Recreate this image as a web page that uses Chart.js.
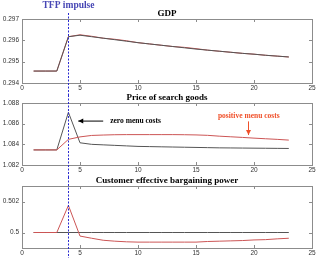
<!DOCTYPE html>
<html lang="en">
<head>
  <meta charset="UTF-8" />
  <title>TFP impulse responses</title>
  <script src="https://cdn.jsdelivr.net/npm/chart.js"></script>
  <style>
    html, body { margin: 0; padding: 0; background: #fff; }
    #wrap { position: relative; width: 325px; height: 267px; overflow: hidden; }
    #wrap canvas { position: absolute; left: 0; }
  </style>
</head>
<body>
  <div id="wrap">
    <canvas id="gdpChart" width="325" height="95" style="top:0"></canvas>
    <canvas id="priceChart" width="325" height="92" style="top:85px"></canvas>
    <canvas id="powerChart" width="325" height="97" style="top:170px"></canvas>
  </div>

  <script>
    const periods = [1, 2, 3, 4, 5, 6, 7, 8, 9, 10, 11, 12, 13, 14, 15, 16, 17, 18, 19, 20, 21, 22, 23];
    const impulseAt = 4;
    const xTicks = [0, 5, 10, 15, 20, 25];

    // GDP
    const gdpZero = [0.29456, 0.29456, 0.29456, 0.29617, 0.29624, 0.29617, 0.29610, 0.29603, 0.29596, 0.29589,
      0.29583, 0.29577, 0.29571, 0.29565, 0.29559, 0.29554, 0.29549, 0.29544, 0.29539, 0.29535, 0.29530, 0.29526, 0.29522];
    const gdpMenu = [0.29456, 0.29456, 0.29456, 0.29617, 0.29626, 0.29619, 0.29610, 0.29605, 0.29598, 0.29589,
      0.29583, 0.29577, 0.29571, 0.29567, 0.29561, 0.29554, 0.29549, 0.29544, 0.29539, 0.29535, 0.29530, 0.29526, 0.29522];
    const gdpTicks = [0.294, 0.295, 0.296, 0.297];

    // Price of search goods
    const priceZero = [1.08346, 1.08346, 1.08346, 1.0871, 1.08415, 1.0840, 1.08395, 1.0839, 1.08385, 1.0838,
      1.08378, 1.08376, 1.08374, 1.08372, 1.0837, 1.08368, 1.08366, 1.08365, 1.08364, 1.08363, 1.08362, 1.08361, 1.0836];
    const priceMenu = [1.08346, 1.08346, 1.08346, 1.08448, 1.08472, 1.08486, 1.0849, 1.08493, 1.08494, 1.08494,
      1.08494, 1.08494, 1.08494, 1.08493, 1.08491, 1.08487, 1.08479, 1.08473, 1.08467, 1.0846, 1.08454, 1.08448, 1.08441];
    const priceTicks = [1.082, 1.084, 1.086, 1.088];

    // Customer effective bargaining power
    const powerZero = [0.5, 0.5, 0.5, 0.5, 0.5, 0.5, 0.5, 0.5, 0.5, 0.5, 0.5, 0.5, 0.5, 0.5, 0.5, 0.5, 0.5, 0.5, 0.5, 0.5, 0.5, 0.5, 0.5];
    const powerMenu = [0.5, 0.5, 0.5, 0.50175, 0.49977, 0.49963, 0.4995, 0.49944, 0.4994, 0.49938,
      0.49938, 0.49938, 0.49938, 0.49938, 0.49938, 0.49942, 0.49944, 0.49946, 0.49948, 0.49952, 0.49954, 0.49959, 0.49963];
    const powerTicks = [0.5, 0.502];

    const BLACK = '#555';
    const RED = '#cc5555';
    const tickFont = { family: '"Liberation Sans", Arial, sans-serif', size: 6.5 };

    // MATLAB style box, inward ticks, title and the impulse marker
    const matlabBox = {
      id: 'matlabBox',
      afterDraw(chart, args, opts) {
        const { ctx, chartArea: a, scales: { x, y } } = chart;
        ctx.save();
        ctx.strokeStyle = '#8c8c8c';
        ctx.lineWidth = 1;
        ctx.strokeRect(Math.round(a.left) + 0.5, Math.round(a.top) + 0.5,
          Math.round(a.right - a.left), Math.round(a.bottom - a.top));
        ctx.beginPath();
        xTicks.forEach(v => {
          const px = Math.round(x.getPixelForValue(v)) + 0.5;
          ctx.moveTo(px, a.bottom); ctx.lineTo(px, a.bottom - 3);
          ctx.moveTo(px, a.top); ctx.lineTo(px, a.top + 3);
        });
        opts.yTicks.forEach(v => {
          const py = Math.round(y.getPixelForValue(v)) + 0.5;
          ctx.moveTo(a.left, py); ctx.lineTo(a.left + 3, py);
          ctx.moveTo(a.right, py); ctx.lineTo(a.right - 3, py);
        });
        ctx.stroke();

        ctx.fillStyle = '#000';
        ctx.font = 'bold 9px "Liberation Serif", "Times New Roman", serif';
        ctx.textAlign = 'center';
        ctx.textBaseline = 'middle';
        ctx.fillText(opts.title, (a.left + a.right) / 2, a.top - 5);

        // impulse line
        const ix = Math.round(x.getPixelForValue(impulseAt)) + 0.5;
        ctx.strokeStyle = '#2b2bd0';
        ctx.setLineDash([2, 1.5]);
        ctx.beginPath();
        ctx.moveTo(ix, opts.lineFrom);
        ctx.lineTo(ix, chart.height - opts.lineTo);
        ctx.stroke();
        ctx.setLineDash([]);

        if (opts.annotate) opts.annotate(ctx, x, y, ix);
        ctx.restore();
      }
    };

    function arrow(ctx, x1, y1, x2, y2, color) {
      const ang = Math.atan2(y2 - y1, x2 - x1);
      ctx.strokeStyle = color;
      ctx.fillStyle = color;
      ctx.lineWidth = 1;
      ctx.beginPath();
      ctx.moveTo(x1, y1); ctx.lineTo(x2, y2);
      ctx.stroke();
      ctx.beginPath();
      ctx.moveTo(x2, y2);
      ctx.lineTo(x2 - 5 * Math.cos(ang) + 2.5 * Math.sin(ang), y2 - 5 * Math.sin(ang) - 2.5 * Math.cos(ang));
      ctx.lineTo(x2 - 5 * Math.cos(ang) - 2.5 * Math.sin(ang), y2 - 5 * Math.sin(ang) + 2.5 * Math.cos(ang));
      ctx.closePath();
      ctx.fill();
    }

    function makeChart(id, series, yMin, yMax, yTicks, title, pad, extra) {
      return new Chart(document.getElementById(id), {
        type: 'line',
        data: {
          datasets: series.map(s => ({
            data: periods.map((p, i) => ({ x: p, y: s.values[i] })),
            borderColor: s.color,
            borderWidth: 1,
            pointRadius: 0,
            tension: 0,
            fill: false
          }))
        },
        options: {
          responsive: false,
          animation: false,
          devicePixelRatio: 1,
          layout: { padding: { left: 0, right: 13, top: pad.top, bottom: pad.bottom } },
          plugins: {
            legend: { display: false },
            tooltip: { enabled: false },
            matlabBox: Object.assign({ title, yTicks, lineFrom: 0, lineTo: 0 }, extra)
          },
          scales: {
            x: {
              type: 'linear', min: 0, max: 25,
              afterBuildTicks(s) { s.ticks = xTicks.map(v => ({ value: v })); },
              ticks: { font: tickFont, color: '#333', padding: 1, maxRotation: 0 },
              grid: { display: false, drawTicks: false },
              border: { display: false },
              afterFit(s) { s.height = 12; }
            },
            y: {
              min: yMin, max: yMax,
              afterBuildTicks(s) { s.ticks = yTicks.map(v => ({ value: v })); },
              ticks: { font: tickFont, color: '#333', padding: 3, callback: v => String(+v.toFixed(3)) },
              grid: { display: false, drawTicks: false },
              border: { display: false },
              afterFit(s) { s.width = 22; }
            }
          }
        },
        plugins: [matlabBox]
      });
    }

    makeChart('gdpChart',
      [{ values: gdpZero, color: BLACK }, { values: gdpMenu, color: RED }],
      0.294, 0.297, gdpTicks, 'GDP', { top: 19, bottom: 0 },
      {
        lineFrom: 13,
        annotate(ctx, x, y, ix) {
          ctx.fillStyle = '#4646b4';
          ctx.font = 'bold 9.5px "Liberation Serif", "Times New Roman", serif';
          ctx.textAlign = 'center';
          ctx.textBaseline = 'middle';
          ctx.fillText('TFP impulse', ix, 6);
        }
      });

    makeChart('priceChart',
      [{ values: priceMenu, color: RED }, { values: priceZero, color: BLACK }],
      1.082, 1.088, priceTicks, 'Price of search goods', { top: 18, bottom: 0 },
      {
        lineFrom: 10,
        annotate(ctx, x, y) {
          const f = 'bold 7.5px "Liberation Serif", "Times New Roman", serif';
          arrow(ctx, x.getPixelForValue(7), y.getPixelForValue(1.08625),
            x.getPixelForValue(4.85), y.getPixelForValue(1.08625), '#000');
          ctx.font = f;
          ctx.fillStyle = '#000';
          ctx.textAlign = 'left';
          ctx.textBaseline = 'middle';
          ctx.fillText('zero menu costs', x.getPixelForValue(7.6), y.getPixelForValue(1.08625));

          const ax = Math.round(x.getPixelForValue(19.5)) + 0.5;
          arrow(ctx, ax, y.getPixelForValue(1.08622), ax, y.getPixelForValue(1.0849), '#f0502a');
          ctx.font = f;
          ctx.fillStyle = '#f0502a';
          ctx.textAlign = 'center';
          ctx.fillText('positive menu costs', x.getPixelForValue(19.55), y.getPixelForValue(1.0867));
        }
      });

    makeChart('powerChart',
      [{ values: powerMenu, color: RED }, { values: powerZero, color: BLACK }],
      0.499, 0.503, powerTicks, 'Customer effective bargaining power', { top: 16, bottom: 7 },
      { lineFrom: 7, lineTo: 9 });
  </script>
</body>
</html>
